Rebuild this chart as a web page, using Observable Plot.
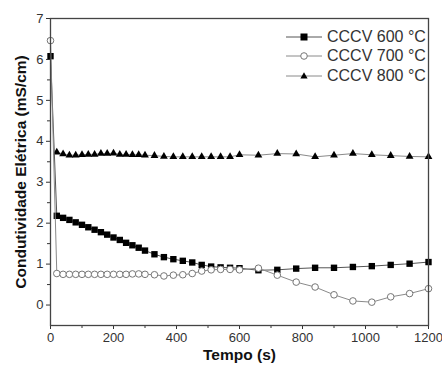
<!DOCTYPE html>
<html>
<head>
<meta charset="utf-8">
<script src="https://cdn.jsdelivr.net/npm/d3@7"></script>
<script src="https://cdn.jsdelivr.net/npm/@observablehq/plot@0.6"></script>
<style>
  body { margin: 0; background: #fff; }
  #wrap { position: relative; width: 442px; height: 372px; font-family: "Liberation Sans", Arial, sans-serif; }
  #legend { position: absolute; left: 286px; top: 27px; font-size: 16px; color: #333; }
  .row { display: flex; align-items: center; height: 19.5px; white-space: nowrap; }
  .row svg { margin-right: 5px; }
</style>
</head>
<body>
<div id="wrap"><div id="legend"></div></div>
<script>
const times = [0,20,40,60,80,100,120,140,160,180,200,220,240,260,280,300,330,360,390,420,450,480,510,540,570,600,660,720,780,840,900,960,1020,1080,1140,1200];
const cccv600 = [6.08,2.18,2.13,2.08,2.02,1.96,1.90,1.84,1.78,1.72,1.65,1.59,1.52,1.46,1.40,1.33,1.24,1.17,1.12,1.08,1.04,0.98,0.94,0.92,0.91,0.90,0.85,0.86,0.89,0.91,0.91,0.93,0.95,0.98,1.01,1.05];
const cccv700 = [6.46,0.77,0.75,0.75,0.75,0.75,0.75,0.75,0.75,0.75,0.75,0.75,0.75,0.76,0.76,0.75,0.74,0.71,0.73,0.74,0.77,0.83,0.86,0.87,0.87,0.86,0.90,0.73,0.56,0.44,0.25,0.10,0.07,0.20,0.28,0.40];
const cccv800 = [null,3.73,3.69,3.66,3.66,3.67,3.68,3.68,3.70,3.70,3.71,3.68,3.68,3.67,3.67,3.66,3.65,3.63,3.62,3.62,3.62,3.62,3.62,3.62,3.62,3.67,3.66,3.70,3.69,3.62,3.66,3.70,3.67,3.65,3.63,3.62];
const seriesNames = ["CCCV 600 °C", "CCCV 700 °C", "CCCV 800 °C"];
const xTicks = [0,200,400,600,800,1000,1200];
const xMinor = [100,300,500,700,900,1100];
const yTicks = [0,1,2,3,4,5,6,7];
const yMinor = [0.5,1.5,2.5,3.5,4.5,5.5,6.5];
const xLabel = "Tempo (s)";
const yLabel = "Condutividade Elétrica (mS/cm)";

const toRows = (vals) => times.map((t, i) => ({t, v: vals[i]})).filter(d => d.v != null);
const d600 = toRows(cccv600), d700 = toRows(cccv700), d800 = toRows(cccv800);

const lineColor = "#8a8a8a";
const styles = [
  {symbol: "square", r: 3.6, fill: "#000", stroke: "none"},
  {symbol: "circle", r: 3.3, fill: "#fff", stroke: "#777"},
  {symbol: "triangle", r: 2.9, fill: "#000", stroke: "none"}
];

const chart = Plot.plot({
  width: 442, height: 372,
  marginLeft: 50, marginRight: 14, marginTop: 18, marginBottom: 47,
  style: {fontFamily: "'Liberation Sans', Arial, sans-serif", color: "#333", background: "#fff"},
  x: {domain: [0, 1200]},
  y: {domain: [-0.5, 7]},
  marks: [
    Plot.axisX({ticks: xTicks, tickSize: 4, tickPadding: 3, fontSize: 13, label: null, stroke: "#333", tickFormat: d => String(d)}),
    Plot.axisX({ticks: xMinor, tickSize: 3, text: null, label: null, stroke: "#333"}),
    Plot.axisY({ticks: yTicks, tickSize: 4, tickPadding: 3, fontSize: 13, label: null, stroke: "#333", tickFormat: d => String(d)}),
    Plot.axisY({ticks: yMinor, tickSize: 3, text: null, label: null, stroke: "#333"}),
    Plot.line(d800, {x: "t", y: "v", stroke: lineColor, strokeWidth: 1}),
    Plot.dot(d800, {x: "t", y: "v", ...styles[2]}),
    Plot.line(d600, {x: "t", y: "v", stroke: "#555", strokeWidth: 1}),
    Plot.dot(d600, {x: "t", y: "v", ...styles[0]}),
    Plot.line(d700, {x: "t", y: "v", stroke: lineColor, strokeWidth: 1}),
    Plot.dot(d700, {x: "t", y: "v", ...styles[1], strokeWidth: 1}),
    Plot.frame({stroke: "#444", strokeWidth: 1.3}),
    Plot.text([xLabel], {frameAnchor: "bottom", dy: 34, text: d => d, fontSize: 15.5, fontWeight: "bold", fill: "#111"}),
    Plot.text([yLabel], {frameAnchor: "left", dx: -29, rotate: -90, textAnchor: "middle", text: d => d, fontSize: 15.5, fontWeight: "bold", fill: "#111"})
  ]
});
const wrap = document.getElementById("wrap");
wrap.insertBefore(chart, wrap.firstChild);

const legend = document.getElementById("legend");
const sym = [
  '<rect x="14.5" y="3.5" width="7" height="7" fill="#000"/>',
  '<circle cx="18" cy="7" r="3.3" fill="#fff" stroke="#777"/>',
  '<path d="M18 3.2 L21.6 9.6 L14.4 9.6 Z" fill="#000"/>'
];
const lc = ["#555", lineColor, lineColor];
seriesNames.forEach((name, i) => {
  const row = document.createElement("div");
  row.className = "row";
  row.innerHTML = `<svg width="36" height="14"><line x1="0" x2="36" y1="7" y2="7" stroke="${lc[i]}" stroke-width="1"/>${sym[i]}</svg><span>${name}</span>`;
  legend.appendChild(row);
});
</script>
</body>
</html>
